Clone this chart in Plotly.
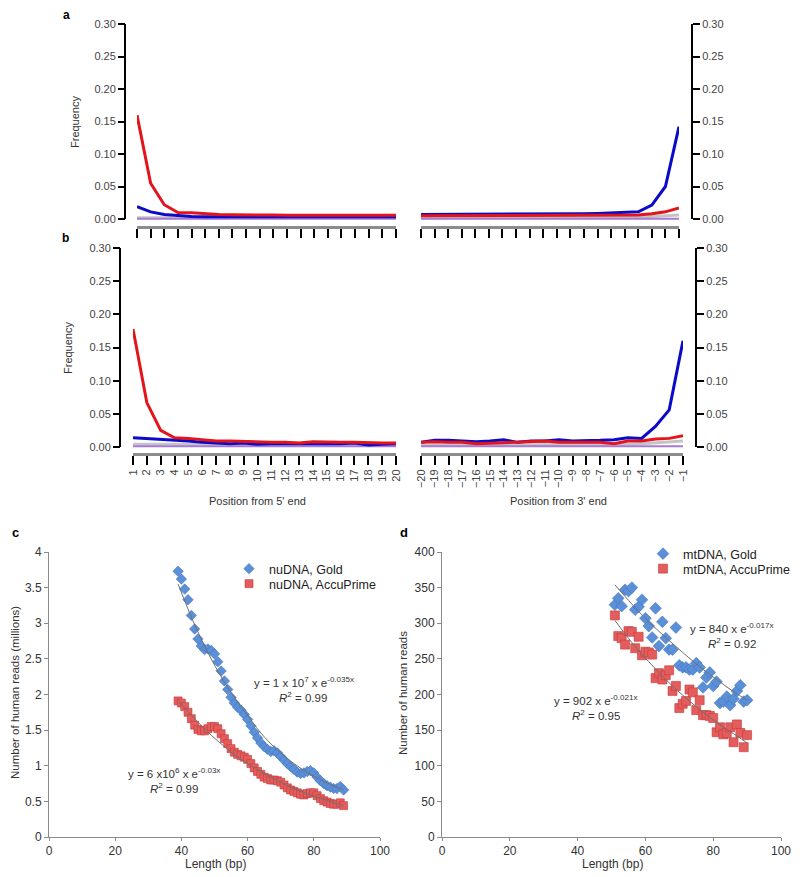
import plotly.graph_objects as go

# ---- panels a/b: misincorporation frequencies ----
pos5 = list(range(1, 21))
pos3 = list(range(-20, 0))
pos3_labels = ["\u2212" + str(-p) for p in pos3]

a5_red = [0.160, 0.055, 0.022, 0.010, 0.0095, 0.008, 0.007, 0.0065, 0.006, 0.006,
          0.006, 0.0058, 0.0058, 0.0058, 0.0058, 0.0058, 0.0058, 0.0058, 0.0058, 0.0058]
a5_blue = [0.019, 0.011, 0.007, 0.005, 0.004, 0.0035, 0.0035, 0.0033, 0.0033, 0.0033,
           0.0033, 0.0033, 0.0033, 0.0033, 0.0033, 0.0033, 0.0033, 0.0033, 0.0033, 0.0035]
a5_gray = [0.002, 0.002, 0.002, 0.002, 0.002, 0.002, 0.002, 0.002, 0.002, 0.002,
           0.002, 0.002, 0.002, 0.002, 0.002, 0.002, 0.002, 0.002, 0.002, 0.002]
a5_purple = [0.0004] * 20

a3_red = [0.005, 0.005, 0.005, 0.005, 0.005, 0.005, 0.005, 0.005, 0.005, 0.005,
          0.005, 0.005, 0.005, 0.005, 0.005, 0.0055, 0.006, 0.008, 0.011, 0.017]
a3_blue = [0.007, 0.007, 0.007, 0.007, 0.007, 0.007, 0.007, 0.007, 0.007, 0.0072,
           0.0075, 0.0078, 0.008, 0.0085, 0.009, 0.010, 0.011, 0.0215, 0.050, 0.142]
a3_gray = [0.002, 0.002, 0.002, 0.002, 0.002, 0.002, 0.002, 0.002, 0.002, 0.002,
           0.002, 0.002, 0.002, 0.002, 0.002, 0.0025, 0.003, 0.004, 0.005, 0.006]
a3_purple = [0.0004] * 20

b5_red = [0.178, 0.067, 0.025, 0.014, 0.013, 0.011, 0.009, 0.009, 0.008, 0.008,
          0.007, 0.007, 0.006, 0.008, 0.007, 0.007, 0.007, 0.006, 0.006, 0.006]
b5_blue = [0.014, 0.013, 0.011, 0.010, 0.009, 0.007, 0.006, 0.005, 0.006, 0.004,
           0.005, 0.005, 0.005, 0.005, 0.004, 0.005, 0.006, 0.003, 0.004, 0.005]
b5_gray = [0.004, 0.004, 0.004, 0.004, 0.004, 0.004, 0.004, 0.004, 0.004, 0.004,
           0.004, 0.004, 0.004, 0.004, 0.004, 0.004, 0.004, 0.004, 0.004, 0.004]
b5_purple = [0.001] * 20

b3_red = [0.007, 0.008, 0.007, 0.007, 0.005, 0.006, 0.006, 0.008, 0.008, 0.009,
          0.007, 0.007, 0.006, 0.007, 0.005, 0.009, 0.009, 0.012, 0.013, 0.017]
b3_blue = [0.007, 0.010, 0.010, 0.009, 0.008, 0.009, 0.011, 0.007, 0.009, 0.009,
           0.011, 0.009, 0.009, 0.010, 0.011, 0.014, 0.013, 0.031, 0.056, 0.160]
b3_gray = [0.003, 0.003, 0.003, 0.003, 0.003, 0.003, 0.003, 0.003, 0.003, 0.003,
           0.003, 0.003, 0.003, 0.0035, 0.004, 0.004, 0.005, 0.006, 0.008, 0.009]
b3_purple = [0.001] * 20

# ---- panel c: nuDNA reads (millions) by length ----
c_len = list(range(39, 90))
c_gold = [3.73, 3.62, 3.48, 3.33, 3.11, 2.92, 2.78, 2.68, 2.63, 2.64, 2.62, 2.57, 2.46,
          2.33, 2.19, 2.07, 1.96, 1.88, 1.82, 1.78, 1.72, 1.65, 1.56, 1.47, 1.39, 1.32,
          1.27, 1.23, 1.20, 1.21, 1.18, 1.13, 1.08, 1.03, 0.99, 0.95, 0.91, 0.89, 0.90,
          0.92, 0.93, 0.90, 0.84, 0.79, 0.75, 0.72, 0.70, 0.68, 0.68, 0.71, 0.66]
c_accu = [1.91, 1.88, 1.83, 1.75, 1.66, 1.57, 1.51, 1.49, 1.49, 1.52, 1.55, 1.55, 1.52,
          1.45, 1.38, 1.31, 1.24, 1.19, 1.16, 1.14, 1.12, 1.09, 1.03, 0.97, 0.92, 0.88,
          0.84, 0.82, 0.80, 0.80, 0.79, 0.77, 0.73, 0.69, 0.66, 0.64, 0.62, 0.60, 0.59,
          0.61, 0.62, 0.62, 0.58, 0.54, 0.51, 0.49, 0.47, 0.46, 0.46, 0.48, 0.44]
c_trend_x = [39, 44, 49, 54, 59, 64, 69, 74, 79, 84, 89]
c_gold_trend = [3.55, 2.98, 2.50, 2.10, 1.77, 1.46, 1.22, 1.03, 0.88, 0.76, 0.66]
c_accu_trend = [1.92, 1.66, 1.43, 1.23, 1.06, 0.92, 0.79, 0.68, 0.59, 0.51, 0.44]

# ---- panel d: mtDNA reads by length ----
d_len = list(range(51, 91))
d_gold = [326, 335, 324, 347, 345, 350, 319, 323, 333, 307, 296, 280, 321, 268, 302,
          279, 263, 263, 294, 241, 238, 238, 235, 235, 244, 238, 210, 224, 231, 212,
          218, 188, 190, 197, 185, 194, 205, 213, 190, 192]
d_accu = [311, 282, 279, 270, 289, 288, 265, 281, 255, 260, 259, 256, 223, 230, 221,
          227, 234, 205, 212, 181, 187, 191, 207, 203, 178, 192, 171, 171, 170, 167,
          147, 154, 144, 146, 154, 133, 158, 146, 126, 143]
d_trend_x = [51, 56, 61, 66, 71, 76, 81, 86, 90]
d_gold_trend = [354, 327, 302, 280, 259, 239, 221, 204, 192]
d_accu_trend = [304, 273, 246, 221, 199, 179, 161, 145, 132]

W, H = 800, 877
FONT = "Arial, Liberation Sans, sans-serif"
RED, BLUE, GRAY, PURPLE = "#e3141b", "#0a0ac8", "#c4c4c4", "#a67ad6"


def px(x):
    return x / W


def py(y):
    return 1 - y / H


fig = go.Figure()

freq_panels = [
    ("x", "y", pos5, a5_red, a5_blue, a5_gray, a5_purple),
    ("x2", "y2", pos3, a3_red, a3_blue, a3_gray, a3_purple),
    ("x3", "y3", pos5, b5_red, b5_blue, b5_gray, b5_purple),
    ("x4", "y4", pos3, b3_red, b3_blue, b3_gray, b3_purple),
]
for xa, ya, xs, red, blue, gray, purple in freq_panels:
    for vals, col, w in [(gray, GRAY, 3), (purple, PURPLE, 2), (blue, BLUE, 3), (red, RED, 3)]:
        fig.add_trace(go.Scatter(x=xs, y=vals, mode="lines", xaxis=xa, yaxis=ya,
                                 line=dict(color=col, width=w), showlegend=False,
                                 hoverinfo="skip"))

# scatter panels; each legend entry gets its own legend box so spacing can be set
for xa, ya, xs, gold, accu, tx, gt, at, names, legs, msize in [
    ("x5", "y5", c_len, c_gold, c_accu, c_trend_x, c_gold_trend, c_accu_trend,
     ("nuDNA, Gold", "nuDNA, AccuPrime"), ("legend", "legend3"), 8),
    ("x6", "y6", d_len, d_gold, d_accu, d_trend_x, d_gold_trend, d_accu_trend,
     ("mtDNA, Gold", "mtDNA, AccuPrime"), ("legend2", "legend4"), 9),
]:
    fig.add_trace(go.Scatter(x=xs, y=gold, mode="markers", xaxis=xa, yaxis=ya, name=names[0],
                             legend=legs[0],
                             marker=dict(symbol="diamond", size=msize, color="#5b90d8",
                                         line=dict(color="#3f74c0", width=0.6))))
    fig.add_trace(go.Scatter(x=xs, y=accu, mode="markers", xaxis=xa, yaxis=ya, name=names[1],
                             legend=legs[1],
                             marker=dict(symbol="square", size=msize, color="#e45c5c",
                                         line=dict(color="#c23a3a", width=0.6))))
    for trend in (gt, at):
        fig.add_trace(go.Scatter(x=tx, y=trend, mode="lines", xaxis=xa, yaxis=ya,
                                 line=dict(color="#707070", width=1, shape="spline"),
                                 showlegend=False, hoverinfo="skip"))

layout = dict(
    width=W, height=H, margin=dict(l=0, r=0, t=0, b=0, autoexpand=False),
    plot_bgcolor="white", paper_bgcolor="white",
    font=dict(family=FONT, size=11, color="#333"),
)

top_x = dict(showline=True, linecolor="#8c8c8c", linewidth=3, ticks="outside", ticklen=9,
             tickwidth=2, tickcolor="black", showgrid=False, zeroline=False, automargin=False)
top_y = dict(showline=False, ticks="outside", ticklen=7, tickwidth=2, tickcolor="black",
             showgrid=False, zeroline=False, tickvals=[0, 0.05, 0.10, 0.15, 0.20, 0.25, 0.30],
             tickformat=".2f", tickfont=dict(size=11, color="#444"), anchor="free",
             automargin=False)

# (x domain px, y domain px, y range low, axis position px, side)
freq_geom = [
    ((137, 396), (24, 226), -7 / 650, 125, "left"),
    ((421, 679), (24, 226), -7 / 650, 692, "right"),
    ((133, 396), (248, 453), -6 / 663.3, 120, "left"),
    ((421, 683), (248, 453), -6 / 663.3, 696, "right"),
]
for i, (xd, yd, ylo, ypos, side) in enumerate(freq_geom):
    n = "" if i == 0 else str(i + 1)
    xs = pos5 if i % 2 == 0 else pos3
    xt = dict(top_x, domain=[px(xd[0]), px(xd[1])], range=[xs[0], xs[-1]], anchor="y" + n,
              tickvals=xs)
    if i >= 2:
        xt.update(showticklabels=True, tickangle=-90,
                  ticktext=[str(p) for p in pos5] if i == 2 else pos3_labels,
                  tickfont=dict(size=11, color="#444"))
    else:
        xt.update(showticklabels=False)
    layout["xaxis" + n] = xt
    layout["yaxis" + n] = dict(top_y, domain=[py(yd[1]), py(yd[0])], range=[ylo, 0.30],
                               position=px(ypos), side=side)

bot_x = dict(showline=True, linecolor="#8a8a8a", linewidth=1, ticks="outside", ticklen=3,
             tickcolor="#8a8a8a", showgrid=False, zeroline=False, range=[0, 100],
             tickvals=[0, 20, 40, 60, 80, 100], tickfont=dict(size=12, color="#333"),
             automargin=False)
bot_y = dict(showline=True, linecolor="#8a8a8a", linewidth=1, ticks="outside", ticklen=4,
             tickcolor="#8a8a8a", showgrid=False, zeroline=False,
             tickfont=dict(size=12, color="#333"), automargin=False)
layout["xaxis5"] = dict(bot_x, domain=[px(49), px(380)], anchor="y5")
layout["yaxis5"] = dict(bot_y, domain=[py(837), py(552)], anchor="x5", range=[0, 4],
                        tickvals=[0, 0.5, 1, 1.5, 2, 2.5, 3, 3.5, 4])
layout["xaxis6"] = dict(bot_x, domain=[px(442), px(781)], anchor="y6")
layout["yaxis6"] = dict(bot_y, domain=[py(837), py(552)], anchor="x6", range=[0, 400],
                        tickvals=list(range(0, 401, 50)))

leg_common = dict(xanchor="left", yanchor="top", bgcolor="rgba(0,0,0,0)",
                  font=dict(size=12.5, color="#222"), itemwidth=30, tracegroupgap=0)
layout["legend"] = dict(leg_common, x=px(229), y=py(554))
layout["legend3"] = dict(leg_common, x=px(229), y=py(569))
layout["legend2"] = dict(leg_common, x=px(643), y=py(539))
layout["legend4"] = dict(leg_common, x=px(643), y=py(554))

fig.update_layout(**layout)

# axis lines of the frequency panels span only 0 to 0.30
for i, (xd, yd, ylo, ypos, side) in enumerate(freq_geom):
    n = "" if i == 0 else str(i + 1)
    fig.add_shape(type="line", xref="paper", yref="y" + n, x0=px(ypos), x1=px(ypos),
                  y0=0, y1=0.30, line=dict(color="black", width=2))


def note(x, y, text, size=11, angle=0, bold=False, color="#333"):
    if bold:
        text = "<b>" + text + "</b>"
    fig.add_annotation(x=px(x), y=py(y), xref="paper", yref="paper", text=text,
                       showarrow=False, textangle=angle, xanchor="center", yanchor="middle",
                       font=dict(family=FONT, size=size, color=color))


note(66, 15, "a", 12, bold=True, color="black")
note(65, 238, "b", 12, bold=True, color="black")
note(15, 532, "c", 13, bold=True, color="black")
note(404, 532, "d", 13, bold=True, color="black")
note(75, 122, "Frequency", 11, angle=-90)
note(68, 348, "Frequency", 11, angle=-90)
note(257, 501, "Position from 5' end", 11)
note(558, 501, "Position from 3' end", 11)
note(15, 693, "Number of human reads (millions)", 11.5, angle=-90)
note(403, 693, "Number of human reads", 11.5, angle=-90)
note(215, 864, "Length (bp)", 12)
note(612, 864, "Length (bp)", 12)
note(304, 682, "y = 1 x 10<sup>7</sup> x e<sup>-0.035x</sup>", 11.5)
note(303, 697, "<i>R</i><sup>2</sup> = 0.99", 11.5)
note(174, 773, "y = 6 x10<sup>6</sup> x e<sup>-0.03x</sup>", 11.5)
note(174, 788, "<i>R</i><sup>2</sup> = 0.99", 11.5)
note(731, 628, "y = 840 x e<sup>-0.017x</sup>", 11.5)
note(732, 643, "<i>R</i><sup>2</sup> = 0.92", 11.5)
note(595, 700, "y = 902 x e<sup>-0.021x</sup>", 11.5)
note(596, 715, "<i>R</i><sup>2</sup> = 0.95", 11.5)

# the page body has a default 8px margin; remove it so the figure fills the window
fig.write_html("out.html", config={"displayModeBar": False},
               post_script="document.body.style.margin = '0';")
